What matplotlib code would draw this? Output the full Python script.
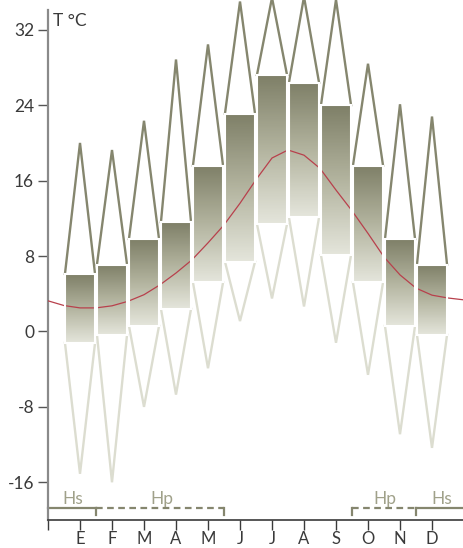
import numpy as np
import matplotlib
matplotlib.use("Agg")
import matplotlib.pyplot as plt
from matplotlib.colors import LinearSegmentedColormap
from matplotlib.patches import Rectangle

plt.rcParams["font.family"] = ["Lato", "DejaVu Sans"]

# ── monthly climate data (°C) ────────────────────────────────────────────────
months   = ["E", "F", "M", "A", "M", "J", "J", "A", "S", "O", "N", "D"]
mean_max = [6.1, 7.1, 9.8, 11.6, 17.6, 23.1, 27.2, 26.4, 24.0, 17.6, 9.8, 7.1]
mean_min = [-1.2, -0.35, 0.6, 2.4, 5.2, 7.4, 11.4, 12.1, 8.1, 5.2, 0.6, -0.35]
abs_max  = [20.0, 19.25, 22.35, 28.85, 30.45, 35.0, 35.4, 35.5, 35.2, 28.4, 24.1, 22.8]
abs_min  = [-15.1, -16.0, -8.0, -6.7, -3.9, 1.1, 3.5, 2.65, -1.2, -4.6, -10.9, -12.35]

# mean temperature curve, sampled every half month
curve_x = np.arange(0, 13.5, 0.5)
curve_t = [3.25, 2.75, 2.5, 2.5, 2.72, 3.2, 3.9, 4.95, 6.2, 7.6, 9.4, 11.3, 13.6,
           16.1, 18.4, 19.25, 18.7, 17.3, 15.0, 12.8, 10.4, 7.9, 6.0, 4.6, 3.85,
           3.55, 3.35]

# periods (start, end, label, style): Hs = solid, Hp = dashed
periods = [(0.0, 1.5, "Hs", "-"), (1.5, 5.5, "Hp", "--"),
           (9.5, 11.5, "Hp", "--"), (11.5, 13.0, "Hs", "-")]
period_label_x = [0.77, 3.57, 10.53, 12.3]
period_ends = [1.5, 5.5, 9.5, 11.5]

yticks = [-16, -8, 0, 8, 16, 24, 32]

C_UP   = "#85866e"
C_LOW  = "#dcddd0"
C_TEXT = "#3a3a3a"
C_LBL  = "#a0a18a"
C_RED  = "#b8404c"

grad = LinearSegmentedColormap.from_list("box", ["#7f8068", "#b3b49f", "#e4e5db"])

fig = plt.figure(figsize=(4.64, 5.48), dpi=100)
ax = fig.add_axes([48 / 464, 28 / 548, 1 - 48 / 464, 510 / 548])

half = 0.47
for i, (hi, lo, amax, amin) in enumerate(zip(mean_max, mean_min, abs_max, abs_min)):
    x = i + 1
    # absolute extremes as spikes from the box corners
    ax.plot([x - half, x, x + half], [hi, amax, hi], color=C_UP, lw=1.7,
            zorder=2, clip_on=False, solid_joinstyle="miter")
    ax.plot([x - half, x, x + half], [lo, amin, lo], color=C_LOW, lw=1.7,
            zorder=2, clip_on=False, solid_joinstyle="miter")
    # mean max / mean min box with vertical gradient
    ax.imshow(np.linspace(0, 1, 64).reshape(-1, 1), cmap=grad, aspect="auto",
              extent=(x - half, x + half, lo, hi), origin="upper", zorder=3)
    ax.add_patch(Rectangle((x - half, lo), 2 * half, hi - lo, fill=False,
                           ec="white", lw=1.5, zorder=5))

ax.plot(curve_x, curve_t, color=C_RED, lw=0.9, zorder=4)

# seasonal periods at the bottom
y_bar, y_tick = -18.7, -19.5
for (x0, x1, lbl, ls), lx in zip(periods, period_label_x):
    ax.plot([x0, x1], [y_bar, y_bar], color=C_UP, lw=1.6, ls=ls,
            dashes=(3, 2) if ls == "--" else (None, None), zorder=2, clip_on=False)
    ax.text(lx, -18.25, lbl, color=C_LBL, fontsize=12.5, ha="center", va="baseline")
for xt in period_ends:
    ax.plot([xt, xt], [y_bar, y_tick], color=C_UP, lw=1.6, zorder=2)

ax.text(0.15, 32.4, "T °C", color=C_TEXT, fontsize=12.5, ha="left", va="baseline")

ax.set_xlim(0, 13)
ax.set_ylim(-20, 34.1)

ax.spines["top"].set_visible(False)
ax.spines["right"].set_visible(False)
ax.spines["left"].set_color("#8a8a8a")
ax.spines["left"].set_linewidth(1.6)
ax.spines["bottom"].set_color(C_TEXT)
ax.spines["bottom"].set_linewidth(1.2)

ax.set_yticks(yticks)
ax.set_yticklabels([str(v) for v in yticks])
ax.set_xticks(range(13))
ax.set_xticklabels([""] + months)
ax.tick_params(axis="y", direction="out", length=7, width=1, color="#555555",
               labelsize=12.5, labelcolor=C_TEXT, pad=3)
ax.tick_params(axis="x", direction="out", length=7, width=1, color=C_TEXT,
               labelsize=12, labelcolor=C_TEXT, pad=1)

fig.savefig("out.png", dpi=100)
